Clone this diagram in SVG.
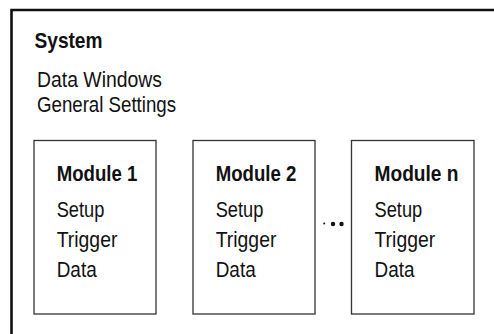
<svg xmlns="http://www.w3.org/2000/svg" width="494" height="334" viewBox="0 0 494 334">
<style>
text{font-family:"Liberation Sans",Arial,sans-serif;font-size:22px;fill:#111;}
.b{font-weight:bold;}
.box{fill:#fff;stroke:#333;stroke-width:1.3;}
.dot{fill:#111;}
</style>
<rect width="494" height="334" fill="#fff"/>
<g id="system">
<path d="M11.5 340 V10 H500" fill="none" stroke="#111" stroke-width="2.6"/>
<text class="b" x="34.5" y="48" textLength="68" lengthAdjust="spacingAndGlyphs">System</text>
<text x="37" y="86.5" textLength="125" lengthAdjust="spacingAndGlyphs">Data Windows</text>
<text x="37" y="112.3" textLength="139" lengthAdjust="spacingAndGlyphs">General Settings</text>
</g>
<g id="module1">
<rect class="box" x="34" y="140.5" width="122" height="173.5"/>
<text class="b" x="56.7" y="180.7" textLength="80.6" lengthAdjust="spacingAndGlyphs">Module 1</text>
<text x="56.7" y="217.3" textLength="47.7" lengthAdjust="spacingAndGlyphs">Setup</text>
<text x="56.7" y="247.3" textLength="60.7" lengthAdjust="spacingAndGlyphs">Trigger</text>
<text x="56.7" y="276.7" textLength="40" lengthAdjust="spacingAndGlyphs">Data</text>
</g>
<g id="module2">
<rect class="box" x="193" y="140.5" width="122" height="173.5"/>
<text class="b" x="215.7" y="180.7" textLength="80.6" lengthAdjust="spacingAndGlyphs">Module 2</text>
<text x="215.7" y="217.3" textLength="47.7" lengthAdjust="spacingAndGlyphs">Setup</text>
<text x="215.7" y="247.3" textLength="60.7" lengthAdjust="spacingAndGlyphs">Trigger</text>
<text x="215.7" y="276.7" textLength="40" lengthAdjust="spacingAndGlyphs">Data</text>
</g>
<g id="modulen">
<rect class="box" x="351.5" y="140.5" width="122.5" height="173.5"/>
<text class="b" x="374.5" y="180.7" textLength="84" lengthAdjust="spacingAndGlyphs">Module n</text>
<text x="374.5" y="217.3" textLength="47.7" lengthAdjust="spacingAndGlyphs">Setup</text>
<text x="374.5" y="247.3" textLength="60.7" lengthAdjust="spacingAndGlyphs">Trigger</text>
<text x="374.5" y="276.7" textLength="40" lengthAdjust="spacingAndGlyphs">Data</text>
</g>
<g id="connectors">
<circle class="dot" cx="324.2" cy="223.5" r="1"/>
<circle class="dot" cx="333" cy="224" r="2.2"/>
<circle class="dot" cx="341.5" cy="224" r="2.2"/>
</g>
</svg>
